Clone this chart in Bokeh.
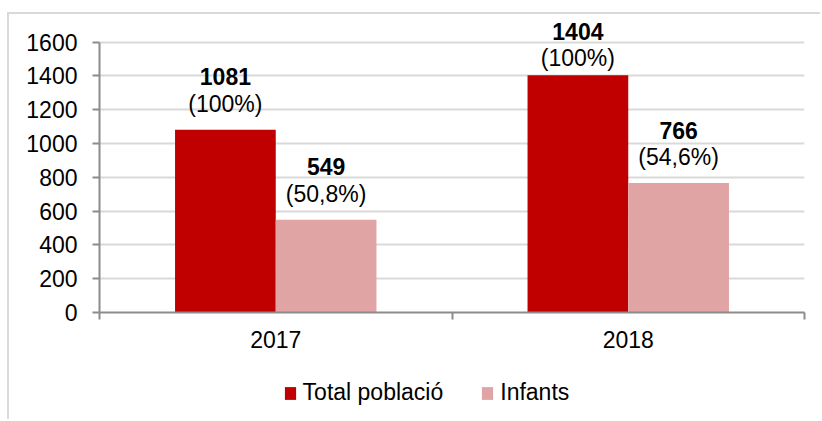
from bokeh.plotting import figure
from bokeh.layouts import column
from bokeh.models import ColumnDataSource, Range1d, FixedTicker, Legend, LegendItem
from bokeh.core.properties import value
from bokeh.embed import file_html
from bokeh.resources import INLINE

# ---- data ----
years = ["2017", "2018"]
series_names = ["Total població", "Infants"]
total = [1081, 1404]
infants = [549, 766]
total_pct = ["(100%)", "(100%)"]
infants_pct = ["(50,8%)", "(54,6%)"]
y_ticks = [0, 200, 400, 600, 800, 1000, 1200, 1400, 1600]

# ---- styling / layout ----
FONT = "Liberation Sans"
FS = "23px"
RED = "#C00000"
PINK = "#DFA4A3"
GRID = "#D9D9D9"
AXIS = "#8C8C8C"

W = 820
H1, H2 = 360, 59
ML, MR, MT = 99, 16, 4
MB = H1 - 312.3
frame_h = H1 - MT - MB
VALUE_AREA_PX = 270.6          # pixel height of the 0..max tick span
y_max = y_ticks[-1]
ppu = VALUE_AREA_PX / y_max
y_end = frame_h / ppu          # range extends above the top tick for labels
bar_w = 2 / 7

xc = [i + 0.5 for i in range(len(years))]
x_total = [c - bar_w / 2 for c in xc]
x_inf = [c + bar_w / 2 for c in xc]

LABEL_GAP = 26.0     # px between bar top and percentage label
LINE_GAP = 27.0      # px between the two label lines
TOP_LIMIT = 31.0     # value label may not go higher than this (px from top)


def label_offsets(vals):
    v_off, p_off = [], []
    for v in vals:
        bar_top = MT + (y_end - v) * ppu
        vo = max(-(LABEL_GAP + LINE_GAP), TOP_LIMIT - bar_top)
        v_off.append(vo)
        p_off.append(vo + LINE_GAP)
    return v_off, p_off


tv, tp = label_offsets(total)
iv, ip = label_offsets(infants)

src_total = ColumnDataSource(dict(x=x_total, top=total, lbl=[str(v) for v in total],
                                  pct=total_pct, vo=tv, po=tp))
src_inf = ColumnDataSource(dict(x=x_inf, top=infants, lbl=[str(v) for v in infants],
                                pct=infants_pct, vo=iv, po=ip))

p = figure(width=W, height=H1, output_backend="svg", toolbar_location=None,
           x_range=Range1d(0, len(years)), y_range=Range1d(0, y_end),
           min_border_left=ML, min_border_right=MR, min_border_top=MT,
           min_border_bottom=int(round(MB)))
p.border_fill_color = None
p.background_fill_color = None
p.outline_line_color = None

p.vbar(x="x", top="top", width=bar_w, source=src_total, fill_color=RED, line_color=None)
p.vbar(x="x", top="top", width=bar_w, source=src_inf, fill_color=PINK, line_color=None)

for src in (src_total, src_inf):
    p.text(x="x", y="top", text="lbl", source=src, y_offset="vo",
           text_font=value(FONT), text_font_size=FS, text_font_style="bold",
           text_align="center", text_baseline="alphabetic", text_color="black")
    p.text(x="x", y="top", text="pct", source=src, y_offset="po",
           text_font=value(FONT), text_font_size=FS,
           text_align="center", text_baseline="alphabetic", text_color="black")

# grid
p.xgrid.visible = False
p.ygrid.ticker = FixedTicker(ticks=y_ticks)
p.ygrid.bounds = (0, y_max)
p.ygrid.grid_line_color = GRID
p.ygrid.grid_line_width = 2

# y axis
ya = p.yaxis[0]
ya.ticker = FixedTicker(ticks=y_ticks)
ya.bounds = (0, y_max)
ya.axis_line_color = AXIS
ya.axis_line_width = 2
ya.major_tick_line_color = AXIS
ya.major_tick_line_width = 2
ya.major_tick_out = 7
ya.major_tick_in = 0
ya.minor_tick_line_color = None
ya.major_label_text_font = FONT
ya.major_label_text_font_size = FS
ya.major_label_text_color = "black"
ya.major_label_standoff = 15

# x axis
xa = p.xaxis[0]
xa.ticker = FixedTicker(ticks=xc, minor_ticks=list(range(len(years) + 1)))
xa.major_label_overrides = {c: y for c, y in zip(xc, years)}
xa.axis_line_color = AXIS
xa.axis_line_width = 2
xa.major_tick_line_color = None
xa.minor_tick_line_color = AXIS
xa.minor_tick_line_width = 2
xa.minor_tick_out = 7
xa.minor_tick_in = 0
xa.major_label_text_font = FONT
xa.major_label_text_font_size = FS
xa.major_label_text_color = "black"
xa.major_label_standoff = 11

# ---- legend strip (separate figure below; frames are aligned by the column) ----
pl = figure(width=W, height=H2, output_backend="svg", toolbar_location=None,
            x_axis_type=None, y_axis_type=None,
            x_range=Range1d(0, 1), y_range=Range1d(0, 1),
            min_border_left=ML, min_border_right=MR, min_border_top=0, min_border_bottom=0)
pl.border_fill_color = None
pl.background_fill_color = None
pl.outline_line_color = None
pl.xgrid.visible = False
pl.ygrid.visible = False
# zero-height proxy bars that only carry the legend styling
d1 = pl.vbar(x=[0.5], top=[0], width=0.1, fill_color=RED, line_color=None)
d2 = pl.vbar(x=[0.5], top=[0], width=0.1, fill_color=PINK, line_color=None)

legend = Legend(items=[LegendItem(label=series_names[0], renderers=[d1]),
                       LegendItem(label=series_names[1], renderers=[d2])],
                orientation="horizontal", location=(183.6, 13),
                glyph_width=14, glyph_height=16, label_standoff=6, spacing=37,
                padding=0, margin=0, border_line_color=None, background_fill_alpha=0,
                label_text_font=FONT, label_text_font_size=FS, label_text_color="black")
pl.add_layout(legend, "center")

layout = column(p, pl, spacing=0)
layout.styles = {
    "background": ("linear-gradient(#D9D9D9,#D9D9D9) 7px 12px / 100% 2px no-repeat, "
                   "linear-gradient(#D9D9D9,#D9D9D9) 7px 12px / 2px 100% no-repeat"),
}

open("out.html", "w").write(file_html(layout, INLINE))
